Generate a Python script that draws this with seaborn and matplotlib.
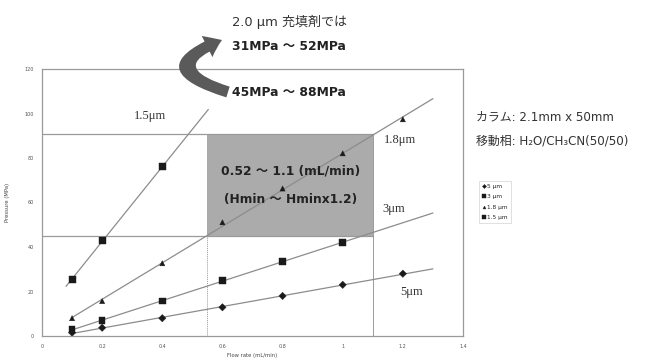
import numpy as np
import pandas as pd
import matplotlib
matplotlib.use("Agg")
import matplotlib.pyplot as plt
import seaborn as sns
from matplotlib.patches import FancyArrowPatch, Rectangle
from matplotlib.path import Path

# ---- data ----
flow_5 = [0.1, 0.2, 0.4, 0.6, 0.8, 1.0, 1.2]
pres_5 = [1.5, 3.7, 8.0, 12.9, 18.0, 23.0, 28.0]
flow_3 = [0.1, 0.2, 0.4, 0.6, 0.8, 1.0]
pres_3 = [3.0, 6.9, 15.7, 24.9, 33.4, 42.1]
flow_18 = [0.1, 0.2, 0.4, 0.6, 0.8, 1.0, 1.2]
pres_18 = [8.0, 15.7, 32.7, 51.1, 66.3, 82.1, 97.4]
flow_15 = [0.1, 0.2, 0.4]
pres_15 = [25.5, 42.8, 76.0]

series_names = ["5 μm", "3 μm", "1.8 μm", "1.5 μm"]
line_ranges = [(0.1, 1.3), (0.1, 1.3), (0.1, 1.3), (0.08, 0.553)]
line_labels = ["5μm", "3μm", "1.8μm", "1.5μm"]
label_pos = [(1.23, 20), (1.17, 57), (1.19, 88), (0.36, 99)]

range_flow = [0.55, 1.1]
range_pres = [45, 91]

x_ticks = [0, 0.2, 0.4, 0.6, 0.8, 1, 1.2, 1.4]
x_tick_labels = ["0", "0.2", "0.4", "0.6", "0.8", "1", "1.2", "1.4"]
y_ticks = [0, 20, 40, 60, 80, 100, 120]

df = pd.concat([
    pd.DataFrame({"flow": flow_5, "pressure": pres_5, "column": series_names[0]}),
    pd.DataFrame({"flow": flow_3, "pressure": pres_3, "column": series_names[1]}),
    pd.DataFrame({"flow": flow_18, "pressure": pres_18, "column": series_names[2]}),
    pd.DataFrame({"flow": flow_15, "pressure": pres_15, "column": series_names[3]}),
])

sns.set_style("white")
plt.rcParams["font.family"] = ["DejaVu Sans", "Noto Sans CJK JP"]
mix = ["DejaVu Sans", "Noto Sans CJK JP"]

fig = plt.figure(figsize=(6.47, 3.63), dpi=100)
ax = fig.add_axes([42/647, 27/363, (463-42)/647, (336-69)/363])

spine_c = "#9a9a9a"
line_c = "#8c8c8c"

# guide lines and shaded region
ax.add_patch(Rectangle((range_flow[0], range_pres[0]), range_flow[1]-range_flow[0],
                       range_pres[1]-range_pres[0], facecolor="#ababab", edgecolor="none", zorder=0))
for yv in range_pres:
    ax.plot([0, range_flow[1]], [yv, yv], color=spine_c, lw=0.9, zorder=1)
ax.plot([range_flow[0]]*2, [0, range_pres[0]], color=spine_c, lw=0.7, ls=(0, (1, 1)), zorder=1)
ax.plot([range_flow[1]]*2, [0, range_pres[1]], color=spine_c, lw=0.7, zorder=1)

# fitted lines
groups = [(flow_5, pres_5), (flow_3, pres_3), (flow_18, pres_18), (flow_15, pres_15)]
for (fx, py), (x0, x1) in zip(groups, line_ranges):
    k, b = np.polyfit(fx, py, 1)
    xs = np.array([x0, x1])
    ax.plot(xs, k*xs + b, color=line_c, lw=0.9, zorder=2)

markers = {"5 μm": "D", "3 μm": "s", "1.8 μm": "^", "1.5 μm": "s"}
sizes = {"5 μm": 14, "3 μm": 22, "1.8 μm": 14, "1.5 μm": 26}
sns.scatterplot(data=df, x="flow", y="pressure", style="column", markers=markers,
                size="column", sizes=sizes, color="#1a1a1a", edgecolor="#1a1a1a",
                linewidth=0.3, ax=ax, zorder=3, legend="full")

for txt, (lx, ly) in zip(line_labels, label_pos):
    ax.text(lx, ly, txt, family="Liberation Serif", fontsize=9, color="#333333",
            ha="center", va="center")

ax.text(0.825, 74, "0.52 ～ 1.1 (mL/min)", family=mix,
        fontsize=8.8, fontweight="bold", ha="center", va="center", color="#222222")
ax.text(0.825, 61.5, "(Hmin ～ Hminx1.2)", family=mix,
        fontsize=8.8, fontweight="bold", ha="center", va="center", color="#222222")

ax.set_xlim(0, 1.4)
ax.set_ylim(0, 120)
ax.set_xticks(x_ticks)
ax.set_xticklabels(x_tick_labels)
ax.set_yticks(y_ticks)
ax.tick_params(labelsize=3.5, colors="#555555", length=2, width=0.5, pad=4)
ax.set_xlabel("Flow rate (mL/min)", fontsize=3.8, color="#444444", labelpad=3)
ax.set_ylabel("Pressure (MPa)", fontsize=3.8, color="#444444", labelpad=10)
for s in ax.spines.values():
    s.set_color(spine_c)
    s.set_linewidth(0.9)

h, l = ax.get_legend_handles_labels()
leg = ax.legend(h, l, loc="upper left", bbox_to_anchor=(476/647, 1-178/363),
                bbox_transform=fig.transFigure, fontsize=4.2, frameon=True,
                handlelength=0.6, handletextpad=0.3, borderpad=0.5, labelspacing=0.9,
                markerscale=0.55, fancybox=False, edgecolor="#bbbbbb")
leg.get_frame().set_linewidth(0.4)

# overlay for free text
ov = fig.add_axes([0, 0, 1, 1], facecolor="none")
ov.set_xlim(0, 647)
ov.set_ylim(363, 0)
ov.axis("off")

ov.text(232, 22, "2.0 μm 充填剤では", family=mix, fontsize=9.4, color="#333333", va="center")
ov.text(232, 46, "31MPa ～ 52MPa", family=mix, fontsize=8.9, fontweight="bold", color="#222222", va="center")
ov.text(232, 93, "45MPa ～ 88MPa", family=mix, fontsize=8.9, fontweight="bold", color="#222222", va="center")
ov.text(476, 117, "カラム: 2.1mm x 50mm", family=mix, fontsize=8.6, color="#333333", va="center")
ov.text(476, 141, "移動相: H₂O/CH₃CN(50/50)", family=mix, fontsize=8.6, color="#333333", va="center")

arc = Path([(228, 92), (150, 68), (222, 40)],
           [Path.MOVETO, Path.CURVE3, Path.CURVE3])
arrow = FancyArrowPatch(path=arc,
                        arrowstyle="simple,head_width=1.9,head_length=1.3,tail_width=0.9",
                        mutation_scale=9, color="#5a5a5a", lw=0,
                        transform=ov.transData)
ov.add_patch(arrow)

fig.savefig("out.png", dpi=100)
